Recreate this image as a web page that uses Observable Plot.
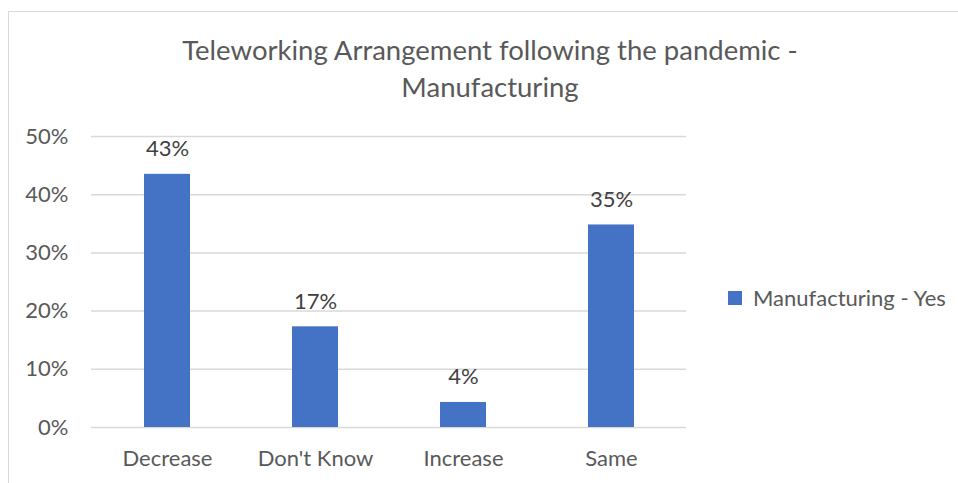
<!DOCTYPE html>
<html><head><meta charset="utf-8">
<script src="https://cdn.jsdelivr.net/npm/d3@7"></script>
<script src="https://cdn.jsdelivr.net/npm/@observablehq/plot@0.6"></script>
<style>
html,body{margin:0;padding:0;background:#fff;}
#wrap{position:relative;width:958px;height:483px;overflow:hidden;font-family:Lato,sans-serif;}
#frame{position:absolute;left:8px;top:11px;width:1000px;height:1000px;border-left:1.5px solid #d9d9d9;border-top:1.5px solid #d9d9d9;}
#title{position:absolute;left:0;width:980px;top:32px;text-align:center;font-size:27.5px;line-height:36.7px;color:#595959;}
#chart{position:absolute;left:0;top:120px;}
#legend{position:absolute;left:728px;top:281px;width:260px;}
#legend, #legend *{white-space:nowrap;}
</style></head><body>
<div id="wrap"><div id="frame"></div><div id="title">Teleworking Arrangement following the pandemic -<br>Manufacturing</div><div id="chart"></div><div id="legend"></div></div>
<script>
const categories = ["Decrease", "Don't Know", "Increase", "Same"];
const values = [0.435, 0.173, 0.043, 0.348];
const labels = ["43%", "17%", "4%", "35%"];
const yTicks = [0, 0.1, 0.2, 0.3, 0.4, 0.5];
const seriesName = "Manufacturing - Yes";
const barColor = "#4472C4";

const data = categories.map((c, i) => ({category: c, value: values[i], label: labels[i]}));

const plot = Plot.plot({
  width: 958, height: 363,
  marginTop: 16, marginBottom: 56, marginLeft: 91, marginRight: 272,
  style: {fontFamily: "Lato, sans-serif", fontSize: "22px", color: "#595959", background: "transparent", overflow: "visible"},
  x: {domain: categories, paddingInner: 0.69, paddingOuter: 0.345, label: null},
  y: {domain: [0, 0.5], label: null},
  marks: [
    Plot.gridY(yTicks, {stroke: "#d9d9d9", strokeOpacity: 1, strokeWidth: 1.5}),
    Plot.barY(data, {x: "category", y: "value", fill: barColor}),
    Plot.text(data, {x: "category", y: "value", text: "label", dy: -18, lineAnchor: "bottom", fill: "#404040", fontSize: 22}),
    Plot.axisX({tickSize: 0, tickPadding: 23, fontSize: 22, fill: "#595959", label: null}),
    Plot.axisY(yTicks, {tickSize: 0, tickPadding: 23, tickFormat: ".0%", fontSize: 22, fill: "#595959", label: null})
  ]
});
document.getElementById("chart").appendChild(plot);

const legend = Plot.legend({
  color: {type: "ordinal", domain: [seriesName], range: [barColor]},
  legend: "swatches", swatchSize: 14,
  style: {fontFamily: "Lato, sans-serif", fontSize: "22px", color: "#595959", margin: 0}
});
document.getElementById("legend").appendChild(legend);
</script>
</body></html>
